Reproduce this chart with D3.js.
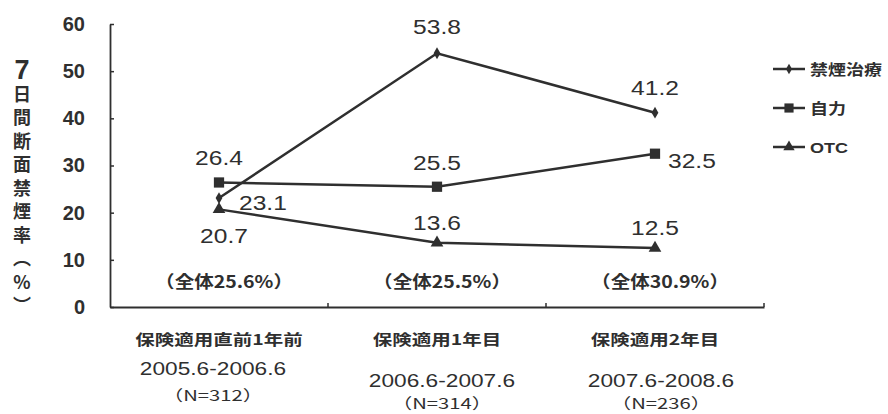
<!DOCTYPE html>
<html>
<head>
<meta charset="utf-8">
<script src="https://cdn.jsdelivr.net/npm/d3@7/dist/d3.min.js"></script>
<style>
  html, body { margin: 0; padding: 0; background: #fff; }
  svg { display: block; }
</style>
</head>
<body>
<svg id="chart" width="888" height="414"></svg>
<script>
// Abstinence rates by period and method
const periods = ["保険適用直前1年前", "保険適用1年目", "保険適用2年目"];
const periodRanges = ["2005.6-2006.6", "2006.6-2007.6", "2007.6-2008.6"];
const periodN = ["（N=312）", "（N=314）", "（N=236）"];
const overall = ["（全体25.6%）", "（全体25.5%）", "（全体30.9%）"];

const seriesNames = ["禁煙治療", "自力", "OTC"];
const treatment = [23.1, 53.8, 41.2];
const selfHelp = [26.4, 25.5, 32.5];
const otc = [20.7, 13.6, 12.5];

const yTicks = [0, 10, 20, 30, 40, 50, 60];
const yTitle = "日間断面禁煙率（%）";

const series = [
  { name: seriesNames[0], values: treatment, symbol: d3.symbolDiamond, size: 40 },
  { name: seriesNames[1], values: selfHelp, symbol: d3.symbolSquare, size: 105 },
  { name: seriesNames[2], values: otc, symbol: d3.symbolTriangle, size: 70 }
];

const ink = "#2f2f2f";
const svg = d3.select("#chart");
const font = "'Liberation Sans', Arial, 'Noto Sans CJK JP', sans-serif";
const cjk = "'Noto Sans CJK JP', sans-serif";

const plotL = 110, plotR = 764, plotT = 24, plotB = 307;

const x = d3.scaleBand().domain(periods).range([plotL, plotR]);
const xc = p => x(p) + x.bandwidth() / 2;
const y = d3.scaleLinear().domain([0, 60]).range([plotB, plotT]);

// place a text at (px, py), widened horizontally by sx
function place(sel, px, py, sx) {
  sel.attr("x", 0).attr("y", 0)
    .attr("transform", (d, i) => `translate(${px(d, i)},${py(d, i)}) scale(${sx},1)`);
  return sel;
}

// Y axis with inward ticks
const yAxis = d3.axisLeft(y).tickValues(yTicks).tickSize(-4).tickPadding(25).tickSizeOuter(0);
const gy = svg.append("g").attr("transform", `translate(${plotL},0)`).call(yAxis);
gy.select(".domain").attr("stroke", ink).attr("stroke-width", 1.8);
gy.selectAll(".tick line").attr("stroke", ink).attr("stroke-width", 1.5);
gy.selectAll(".tick text")
  .attr("fill", ink).attr("font-family", font).attr("font-size", 20).attr("font-weight", "bold");

// X axis baseline with separators between categories
const xAxis = d3.axisBottom(x).tickSize(0).tickFormat("");
const gx = svg.append("g").attr("transform", `translate(0,${plotB})`).call(xAxis);
gx.select(".domain").attr("stroke", ink).attr("stroke-width", 1.8);
gx.selectAll(".sep")
  .data(periods.map(p => x(p) + x.bandwidth()))
  .join("line")
  .attr("class", "sep")
  .attr("x1", d => d).attr("x2", d => d)
  .attr("y1", 0).attr("y2", -4)
  .attr("stroke", ink).attr("stroke-width", 1.5);

// Category labels
const lowerDx = [-6, 5, 6];
const yearY = [375, 387, 387];
const nY = [401, 409, 409];
const catG = svg.append("g").attr("fill", ink).attr("text-anchor", "middle");
place(catG.selectAll(".cat").data(periods).join("text").attr("class", "cat"),
  d => xc(d), () => 345, 1.3)
  .attr("font-family", cjk).attr("font-size", 15).attr("font-weight", "bold")
  .text(d => d);
place(catG.selectAll(".rng").data(periodRanges).join("text").attr("class", "rng"),
  (d, i) => xc(periods[i]) + lowerDx[i], (d, i) => yearY[i], 1.26)
  .attr("font-family", font).attr("font-size", 18)
  .text(d => d);
place(catG.selectAll(".n").data(periodN).join("text").attr("class", "n"),
  (d, i) => xc(periods[i]) + lowerDx[i], (d, i) => nY[i], 1.35)
  .attr("font-family", cjk).attr("font-size", 15)
  .text(d => d);

// Overall rate notes
place(catG.selectAll(".all").data(overall).join("text").attr("class", "all"),
  (d, i) => xc(periods[i]) + 5, () => 288, 1.15)
  .attr("font-family", cjk).attr("font-size", 17).attr("font-weight", "bold")
  .text(d => d);

// Y title, written top to bottom
const title = svg.append("text")
  .attr("x", 22).attr("y", 55)
  .attr("fill", ink).attr("font-weight", "bold")
  .attr("font-family", cjk)
  .style("writing-mode", "vertical-rl")
  .style("text-orientation", "upright");
title.append("tspan").attr("font-family", font).attr("font-size", 27).text("7");
title.append("tspan").attr("font-size", 18).attr("letter-spacing", 5.5).text(yTitle);

// Lines and markers
const line = d3.line().x((d, i) => xc(periods[i])).y(d => y(d));
series.forEach(s => {
  svg.append("path").datum(s.values)
    .attr("d", line).attr("fill", "none").attr("stroke", ink).attr("stroke-width", 2.5);
  svg.append("g").selectAll("path").data(s.values).join("path")
    .attr("transform", (d, i) => `translate(${xc(periods[i])},${y(d)})`)
    .attr("d", d3.symbol().type(s.symbol).size(s.size))
    .attr("fill", ink);
});

// Value labels: [series index, point index, dx, dy, anchor]
const labelPos = [
  [0, 0, 20, 12, "start"], [0, 1, 0, -19, "middle"], [0, 2, 0, -18, "middle"],
  [1, 0, 0, -17, "middle"], [1, 1, 0, -17, "middle"], [1, 2, 13, 14, "start"],
  [2, 0, 5, 34, "middle"], [2, 1, 0, -13, "middle"], [2, 2, 0, -13, "middle"]
];
place(svg.append("g").selectAll("text").data(labelPos).join("text"),
  d => xc(periods[d[1]]) + d[2], d => y(series[d[0]].values[d[1]]) + d[3], 1.17)
  .attr("text-anchor", d => d[4])
  .attr("fill", ink).attr("font-family", font).attr("font-size", 21)
  .text(d => series[d[0]].values[d[1]].toFixed(1));

// Legend
const lg = svg.append("g");
series.forEach((s, i) => {
  const ly = 69 + i * 39;
  lg.append("line").attr("x1", 773).attr("x2", 805).attr("y1", ly).attr("y2", ly)
    .attr("stroke", ink).attr("stroke-width", 2.5);
  lg.append("path").attr("transform", `translate(789,${ly})`)
    .attr("d", d3.symbol().type(s.symbol).size(s.size * 0.8)).attr("fill", ink);
  lg.append("text")
    .attr("transform", `translate(810,${ly + 6}) scale(1.2,1)`)
    .attr("fill", ink).attr("font-family", i === 2 ? font : cjk)
    .attr("font-size", 15).attr("font-weight", "bold")
    .text(s.name);
});
</script>
</body>
</html>
